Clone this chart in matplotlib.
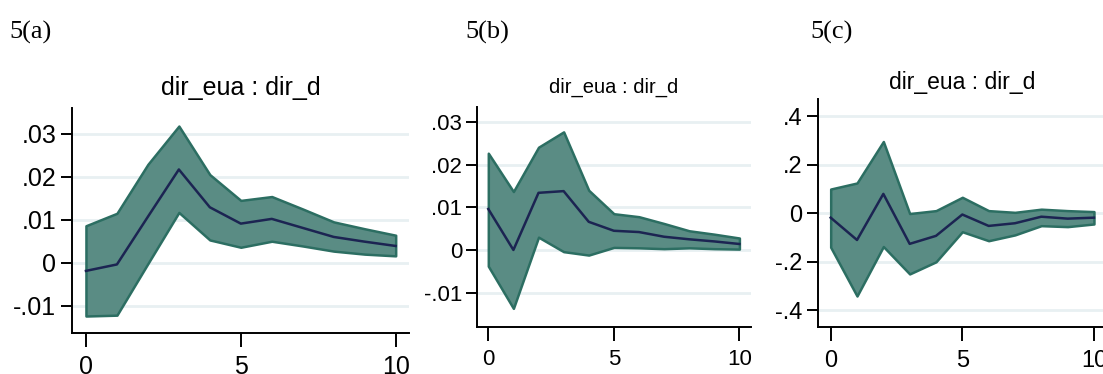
import numpy as np
import matplotlib.pyplot as plt
from matplotlib import font_manager

# impulse response steps
steps = np.arange(0, 11)

# 5(a)
irf_a = [-0.0019, -0.0004, 0.0107, 0.0217, 0.0129, 0.0091, 0.0102, 0.0081, 0.0060, 0.0049, 0.0039]
upper_a = [0.0086, 0.0115, 0.0229, 0.0318, 0.0205, 0.0145, 0.0154, 0.0125, 0.0095, 0.0079, 0.0064]
lower_a = [-0.0124, -0.0122, -0.0002, 0.0117, 0.0053, 0.0036, 0.0050, 0.0039, 0.0027, 0.0020, 0.0016]

# 5(b)
irf_b = [0.0096, 0.0000, 0.0134, 0.0138, 0.0066, 0.0045, 0.0042, 0.0031, 0.0025, 0.0020, 0.0014]
upper_b = [0.0227, 0.0137, 0.0241, 0.0277, 0.0140, 0.0085, 0.0078, 0.0062, 0.0045, 0.0037, 0.0028]
lower_b = [-0.0038, -0.0137, 0.0030, -0.0004, -0.0012, 0.0006, 0.0005, 0.0003, 0.0005, 0.0003, 0.0002]

# 5(c)
irf_c = [-0.018, -0.110, 0.080, -0.126, -0.093, -0.005, -0.052, -0.041, -0.014, -0.022, -0.018]
upper_c = [0.100, 0.125, 0.296, -0.001, 0.011, 0.066, 0.011, 0.004, 0.017, 0.011, 0.007]
lower_c = [-0.140, -0.341, -0.137, -0.250, -0.200, -0.076, -0.113, -0.089, -0.051, -0.055, -0.044]

yticks_a = [-0.01, 0, 0.01, 0.02, 0.03]
ylabels_a = ['-.01', '0', '.01', '.02', '.03']
yticks_b = [-0.01, 0, 0.01, 0.02, 0.03]
ylabels_b = ['-.01', '0', '.01', '.02', '.03']
yticks_c = [-0.4, -0.2, 0, 0.2, 0.4]
ylabels_c = ['-.4', '-.2', '0', '.2', '.4']

title = 'dir_eua : dir_d'

names = [f.name for f in font_manager.fontManager.ttflist]
sans = 'Liberation Sans Narrow' if 'Liberation Sans Narrow' in names else 'Liberation Sans'

W, H = 1103, 374
fig = plt.figure(figsize=(W / 100, H / 100), dpi=100)

fill_col = '#5a8c84'
edge_col = '#2c6e62'
line_col = '#1c2452'
grid_col = '#e8f0f2'


def panel(box, xlim, ylim, irf, up, lo, yt, yl, tsize, label, label_xy, title_y, fs):
    l, r, t, b = box
    ax = fig.add_axes([l / W, (H - b) / H, (r - l) / W, (b - t) / H])
    ax.fill_between(steps, lo, up, facecolor=fill_col, edgecolor=edge_col, linewidth=1.8, zorder=2)
    ax.plot(steps, irf, color=line_col, linewidth=1.8, zorder=3)
    ax.set_xlim(*xlim)
    ax.set_ylim(*ylim)
    ax.set_xticks([0, 5, 10])
    ax.set_yticks(yt)
    ax.set_yticklabels(yl)
    for y in yt:
        ax.axhline(y, color=grid_col, linewidth=2, zorder=1)
    for s in ['top', 'right']:
        ax.spines[s].set_visible(False)
    for s in ['left', 'bottom']:
        ax.spines[s].set_linewidth(1.4)
    ax.tick_params(axis='y', length=8, width=1.4, pad=3, labelsize=fs)
    ax.tick_params(axis='x', length=10, width=1.4, pad=6, labelsize=fs)
    for lab in ax.get_xticklabels() + ax.get_yticklabels():
        lab.set_family(sans)
    fig.text((l + (r - l) / 2) / W, 1 - title_y / H, title, ha='center', va='center',
             fontsize=tsize, family=sans)
    fig.text(label_xy[0] / W, 1 - label_xy[1] / H, label, ha='left', va='center',
             fontsize=19, family='Liberation Serif')
    return ax


panel((71.7, 409, 108, 333), (-0.46, 10.43), (-0.01635, 0.036), irf_a, upper_a, lower_a,
      yticks_a, ylabels_a, 18, '5(a)', (9, 32), 88, 18)
panel((477.3, 750.7, 106.7, 326.7), (-0.438, 10.45), (-0.018, 0.0336), irf_b, upper_b, lower_b,
      yticks_b, ylabels_b, 14.5, '5(b)', (465, 32), 87, 16)
panel((818, 1105.8, 99.3, 327.3), (-0.482, 10.45), (-0.47, 0.47), irf_c, upper_c, lower_c,
      yticks_c, ylabels_c, 16.5, '5(c)', (810, 32), 82, 17)

fig.savefig('out.png', dpi=100)
